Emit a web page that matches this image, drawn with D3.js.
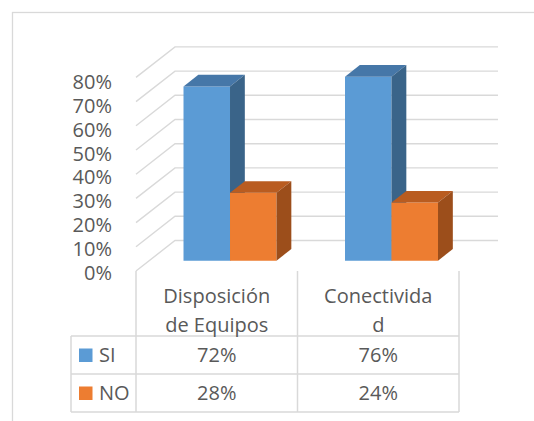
<!DOCTYPE html>
<html lang="es">
<head>
<meta charset="UTF-8">
<title>SI / NO</title>
<script src="https://d3js.org/d3.v7.min.js"></script>
<style>
  html, body { margin: 0; padding: 0; background: #fff; }
  svg { display: block; font-family: "Open Sans", sans-serif; }
</style>
</head>
<body>
<div id="chart"></div>
<script>
  // datos
  const categories = ['Disposición de Equipos', 'Conectividad'];
  const categoryLines = [['Disposición', 'de Equipos'], ['Conectivida', 'd']];
  const series = ['SI', 'NO'];
  const valuesSI = [0.72, 0.76];
  const valuesNO = [0.28, 0.24];
  const tickValues = [0, 0.1, 0.2, 0.3, 0.4, 0.5, 0.6, 0.7, 0.8];

  const width = 534, height = 421;
  const colors = {
    SI: { front: '#5B9BD5', top: '#4677A8', side: '#3A6489' },
    NO: { front: '#ED7D31', top: '#B95C20', side: '#9C4E1B' }
  };
  const gridColor = '#D9D9D9';
  const textColor = '#595959';

  // profundidad (proyeccion oblicua)
  const depth = { dx: 39, dy: -30.5 };
  const barFront = 0.34, barBack = 0.72;

  const svg = d3.select('#chart').append('svg')
    .attr('width', width)
    .attr('height', height);

  // marco exterior
  svg.append('rect')
    .attr('x', 12.5).attr('y', 12.5)
    .attr('width', 700).attr('height', 700)
    .attr('fill', 'none')
    .attr('stroke', gridColor)
    .attr('stroke-width', 1.3);

  const x0 = d3.scaleBand().domain(categories).range([136, 459]);
  const groupW = 93;
  const x1 = d3.scaleBand().domain(series).range([0, groupW]);
  const y = d3.scaleLinear().domain([0, 0.8]).range([271, 77.4]);
  const yLabel = d3.scaleLinear().domain([0, 0.8]).range([272.5, 82]);

  const P = (x, v, t) => [x + t * depth.dx, y(v) + t * depth.dy];

  // rejilla: pared lateral y pared del fondo
  const grid = svg.append('g')
    .attr('stroke', gridColor)
    .attr('stroke-width', 1.4)
    .attr('fill', 'none');
  const xMin = x0.range()[0], xMax = x0.range()[1];
  tickValues.forEach(v => {
    const a = P(xMin, v, 0), b = P(xMin, v, 1), c = P(xMax, v, 1);
    grid.append('path').attr('d', d3.line()([a, b, c]));
  });

  // etiquetas del eje
  svg.append('g')
    .selectAll('text')
    .data(tickValues)
    .join('text')
    .attr('x', 112)
    .attr('y', d => yLabel(d))
    .attr('dy', '0.36em')
    .attr('text-anchor', 'end')
    .attr('font-size', 20)
    .attr('fill', textColor)
    .text(d => d3.format('.0%')(d));

  // barras 3D
  const barData = [];
  categories.forEach((c, i) => {
    barData.push({ cat: c, s: 'SI', v: valuesSI[i] });
    barData.push({ cat: c, s: 'NO', v: valuesNO[i] });
  });

  const bars = svg.append('g');
  barData.forEach(d => {
    const xa = x0(d.cat) + (x0.bandwidth() - groupW) / 2 + x1(d.s);
    const xb = xa + x1.bandwidth();
    const col = colors[d.s];
    const g = bars.append('g');
    const poly = pts => 'M' + pts.map(p => p.join(',')).join('L') + 'Z';
    // frente
    g.append('path')
      .attr('d', poly([P(xa, 0, barFront), P(xb, 0, barFront), P(xb, d.v, barFront), P(xa, d.v, barFront)]))
      .attr('fill', col.front);
    // tapa
    g.append('path')
      .attr('d', poly([P(xa, d.v, barFront), P(xb, d.v, barFront), P(xb, d.v, barBack), P(xa, d.v, barBack)]))
      .attr('fill', col.top);
    // lado
    g.append('path')
      .attr('d', poly([P(xb, 0, barFront), P(xb, 0, barBack), P(xb, d.v, barBack), P(xb, d.v, barFront)]))
      .attr('fill', col.side);
  });

  // tabla de datos
  const rowTop = 271, headerBottom = 336, rowH = 38;
  const tableLeft = 71;
  const colEdges = categories.map(c => x0(c)).concat([xMax]);
  const table = svg.append('g')
    .attr('stroke', gridColor)
    .attr('stroke-width', 1.5)
    .attr('fill', 'none');
  const tableBottom = headerBottom + rowH * series.length;
  colEdges.forEach(xe => {
    table.append('line').attr('x1', xe).attr('x2', xe).attr('y1', rowTop).attr('y2', tableBottom);
  });
  table.append('line').attr('x1', tableLeft).attr('x2', tableLeft).attr('y1', headerBottom).attr('y2', tableBottom);
  for (let r = 0; r <= series.length; r++) {
    const yy = headerBottom + r * rowH;
    table.append('line').attr('x1', tableLeft).attr('x2', xMax).attr('y1', yy).attr('y2', yy);
  }

  const txt = svg.append('g')
    .attr('font-size', 20)
    .attr('fill', textColor);

  categories.forEach((c, i) => {
    const cx = x0(c) + x0.bandwidth() / 2;
    categoryLines[i].forEach((line, k) => {
      txt.append('text')
        .attr('x', cx)
        .attr('y', 303 + k * 29)
        .attr('text-anchor', 'middle')
        .text(line);
    });
  });

  const rowValues = { SI: valuesSI, NO: valuesNO };
  series.forEach((s, r) => {
    const cy = headerBottom + r * rowH + rowH / 2;
    svg.append('rect')
      .attr('x', 79).attr('y', cy - 6.5)
      .attr('width', 13.5).attr('height', 13.5)
      .attr('fill', colors[s].front);
    txt.append('text')
      .attr('x', 99)
      .attr('y', cy + 7)
      .text(s);
    categories.forEach((c, i) => {
      txt.append('text')
        .attr('x', x0(c) + x0.bandwidth() / 2)
        .attr('y', cy + 7)
        .attr('text-anchor', 'middle')
        .text(d3.format('.0%')(rowValues[s][i]));
    });
  });
</script>
</body>
</html>
